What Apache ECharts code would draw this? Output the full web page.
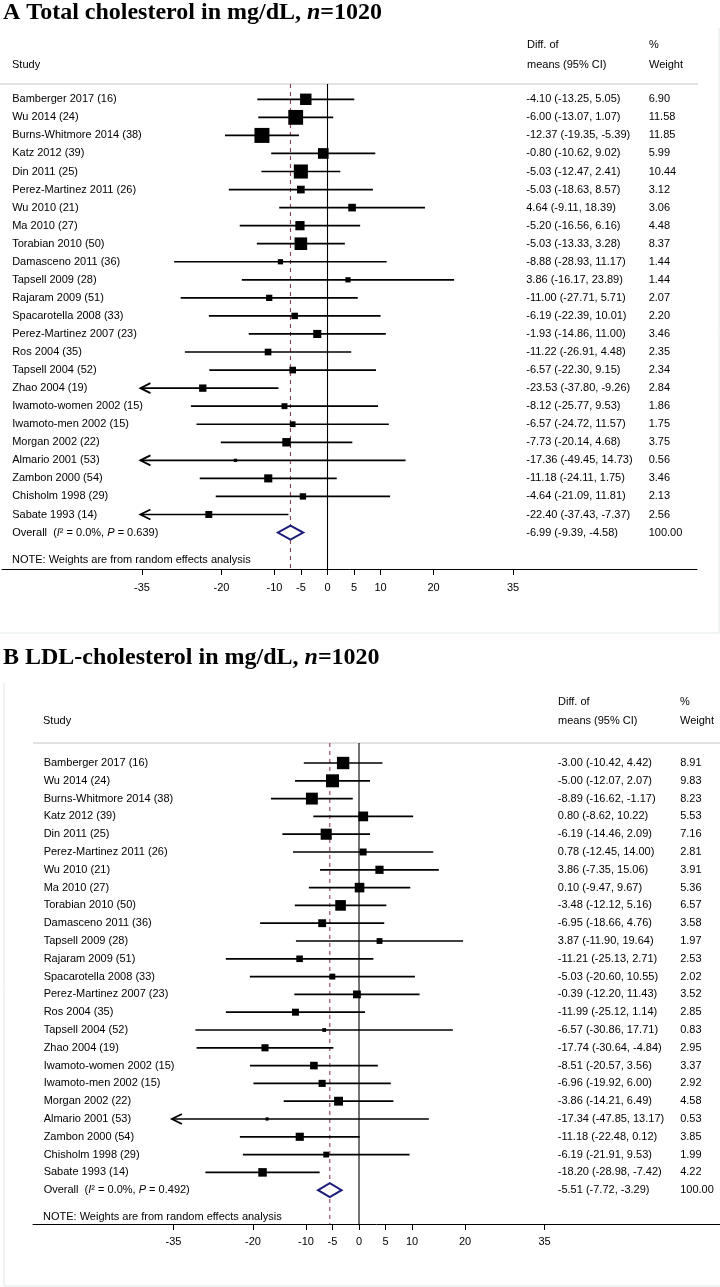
<!DOCTYPE html>
<html><head><meta charset="utf-8">
<script src="https://cdn.jsdelivr.net/npm/echarts@6/dist/echarts.min.js"></script>
<style>html,body{margin:0;padding:0;background:#fff}#c{width:720px;height:1287px}</style>
</head><body><div id="c"></div>
<script>
// ---------- data ----------
const studies = ["Bamberger 2017 (16)","Wu 2014 (24)","Burns-Whitmore 2014 (38)","Katz 2012 (39)","Din 2011 (25)","Perez-Martinez 2011 (26)","Wu 2010 (21)","Ma 2010 (27)","Torabian 2010 (50)","Damasceno 2011 (36)","Tapsell 2009 (28)","Rajaram 2009 (51)","Spacarotella 2008 (33)","Perez-Martinez 2007 (23)","Ros 2004 (35)","Tapsell 2004 (52)","Zhao 2004 (19)","Iwamoto-women 2002 (15)","Iwamoto-men 2002 (15)","Morgan 2002 (22)","Almario 2001 (53)","Zambon 2000 (54)","Chisholm 1998 (29)","Sabate 1993 (14)"];

const tcEst = [-4.10,-6.00,-12.37,-0.80,-5.03,-5.03,4.64,-5.20,-5.03,-8.88,3.86,-11.00,-6.19,-1.93,-11.22,-6.57,-23.53,-8.12,-6.57,-7.73,-17.36,-11.18,-4.64,-22.40];
const tcLo  = [-13.25,-13.07,-19.35,-10.62,-12.47,-18.63,-9.11,-16.56,-13.33,-28.93,-16.17,-27.71,-22.39,-14.86,-26.91,-22.30,-37.80,-25.77,-24.72,-20.14,-49.45,-24.11,-21.09,-37.43];
const tcHi  = [5.05,1.07,-5.39,9.02,2.41,8.57,18.39,6.16,3.28,11.17,23.89,5.71,10.01,11.00,4.48,9.15,-9.26,9.53,11.57,4.68,14.73,1.75,11.81,-7.37];
const tcWt  = [6.90,11.58,11.85,5.99,10.44,3.12,3.06,4.48,8.37,1.44,1.44,2.07,2.20,3.46,2.35,2.34,2.84,1.86,1.75,3.75,0.56,3.46,2.13,2.56];
const tcOverall = [-6.99,-9.39,-4.58,100.00];
const tcHet = ["0.0%","0.639"];

const ldlEst = [-3.00,-5.00,-8.89,0.80,-6.19,0.78,3.86,0.10,-3.48,-6.95,3.87,-11.21,-5.03,-0.39,-11.99,-6.57,-17.74,-8.51,-6.96,-3.86,-17.34,-11.18,-6.19,-18.20];
const ldlLo  = [-10.42,-12.07,-16.62,-8.62,-14.46,-12.45,-7.35,-9.47,-12.12,-18.66,-11.90,-25.13,-20.60,-12.20,-25.12,-30.86,-30.64,-20.57,-19.92,-14.21,-47.85,-22.48,-21.91,-28.98];
const ldlHi  = [4.42,2.07,-1.17,10.22,2.09,14.00,15.06,9.67,5.16,4.76,19.64,2.71,10.55,11.43,1.14,17.71,-4.84,3.56,6.00,6.49,13.17,0.12,9.53,-7.42];
const ldlWt  = [8.91,9.83,8.23,5.53,7.16,2.81,3.91,5.36,6.57,3.58,1.97,2.53,2.02,3.52,2.85,0.83,2.95,3.37,2.92,4.58,0.53,3.85,1.99,4.22];
const ldlOverall = [-5.51,-7.72,-3.29,100.00];
const ldlHet = ["0.0%","0.492"];

const tickValues = [-35,-20,-10,-5,0,5,10,20,35];

// ---------- layout ----------
const FONT = 'Liberation Sans';
const NAME_X = -59.5, CI_X = 37.5, WT_X = 60.6, CLIP = -35.3;
const fmt = v => v.toFixed(2);

function panelSeries(g, est, lo, hi, wt, ov, het, boxK){
  const n = studies.length;
  const wmax = Math.max.apply(null, wt);
  const rows = studies.map((s,i)=>[i, est[i], lo[i], hi[i], wt[i]]);
  rows.push([n, ov[0], ov[1], ov[2], ov[3]]);
  return [
    {
      type:'custom', xAxisIndex:g, yAxisIndex:g, z:1, silent:true,
      data:[[0,0],[ov[0],1]],
      renderItem(params, api){
        const cs = params.coordSys;
        const x = api.coord([api.value(0), 0])[0];
        const dashed = api.value(1) === 1;
        return {type:'line', shape:{x1:x, y1:cs.y, x2:x, y2:cs.y+cs.height},
          style: dashed ? {stroke:'#94404f', lineWidth:1.1, lineDash:[4,4]} : {stroke:'#000', lineWidth:1.1}};
      }
    },
    {
      type:'custom', xAxisIndex:g, yAxisIndex:g, z:3, silent:true,
      data: rows,
      renderItem(params, api){
        const i = params.dataIndex;
        const yv = api.value(0), e = api.value(1), l = api.value(2), h = api.value(3), w = api.value(4);
        const y = api.coord([0, yv])[1];
        const X = v => api.coord([v, yv])[0];
        const txt = (v, t, extra) => ({type:'text', x:X(v), y:y,
          style:Object.assign({text:t, fill:'#000', fontSize:11, fontFamily:FONT, align:'left', verticalAlign:'middle'}, extra||{})});
        const ch = [];
        if (i < n){
          const clipped = l < CLIP;
          const xl = X(clipped ? CLIP : l), xh = X(h);
          ch.push({type:'line', shape:{x1:xl, y1:y, x2:xh, y2:y}, style:{stroke:'#000', lineWidth:1.7}});
          if (clipped) ch.push({type:'polyline', shape:{points:[[xl+10,y-5],[xl,y],[xl+10,y+5]]}, style:{stroke:'#000', lineWidth:1.8, fill:'none'}});
          const s = Math.max(3.2, boxK*Math.sqrt(w/wmax));
          ch.push({type:'rect', shape:{x:X(e)-s/2, y:y-s/2, width:s, height:s}, style:{fill:'#000'}});
          ch.push(txt(NAME_X, studies[i]));
          ch.push(txt(CI_X, fmt(e)+' ('+fmt(l)+', '+fmt(h)+')'));
          ch.push(txt(WT_X, fmt(w)));
        } else {
          ch.push({type:'polygon', shape:{points:[[X(l),y],[X(e),y-7],[X(h),y],[X(e),y+7]]},
            style:{fill:'#fff', stroke:'#1d1d7a', lineWidth:2}});
          ch.push({type:'text', x:X(NAME_X), y:y, style:{
            text:'{a|Overall  (}{b|I}{a|² = '+het[0]+', }{b|P}{a| = '+het[1]+')}',
            rich:{a:{fontSize:11, fontFamily:FONT, fill:'#000'}, b:{fontSize:11, fontFamily:FONT, fontStyle:'italic', fill:'#000'}},
            align:'left', verticalAlign:'middle'}});
          ch.push(txt(CI_X, fmt(e)+' ('+fmt(l)+', '+fmt(h)+')'));
          ch.push(txt(WT_X, fmt(w)));
        }
        return {type:'group', children:ch};
      }
    }
  ];
}

function xAxisCfg(g, min, max, margin){
  return {type:'value', gridIndex:g, min:min, max:max,
    axisLine:{show:true, onZero:false, lineStyle:{color:'#000', width:1}},
    axisTick:{show:true, length:6, customValues:tickValues, lineStyle:{color:'#000', width:1}},
    axisLabel:{customValues:tickValues, color:'#000', fontSize:11, fontFamily:FONT, margin:margin},
    splitLine:{show:false}};
}

function hdr(x, y, t){ return {type:'text', x:x, y:y, style:{text:t, fill:'#000', fontSize:11, fontFamily:FONT, align:'left', verticalAlign:'middle'}}; }
function title(y, letter, body){
  return {type:'text', x:3, y:y, style:{
    text:'{t|'+letter+' '+body+' }{i|n}{t|=1020}',
    rich:{t:{fontSize:24, fontWeight:'bold', fontFamily:'Liberation Serif', fill:'#000'},
          i:{fontSize:24, fontWeight:'bold', fontStyle:'italic', fontFamily:'Liberation Serif', fill:'#000'}},
    verticalAlign:'middle', align:'left'}};
}
function ln(x1,y1,x2,y2,c){ return {type:'line', shape:{x1,y1,x2,y2}, style:{stroke:c, lineWidth:1}, silent:true}; }

const chart = echarts.init(document.getElementById('c'), null, {renderer:'canvas'});
chart.setOption({
  animation:false,
  backgroundColor:'#fff',
  grid:[
    {left:2, right:23, top:84, bottom:718},
    {left:33, right:0, top:743, bottom:63}
  ],
  xAxis:[ xAxisCfg(0, -61.42, 69.72, 13), xAxisCfg(1, -61.51, 68.11, 12) ],
  yAxis:[
    {type:'value', gridIndex:0, inverse:true, min:-0.848, max:26.02, show:false},
    {type:'value', gridIndex:1, inverse:true, min:-1.124, max:25.9, show:false}
  ],
  graphic:[
    ln(719,28,719,633,'#e2e8e8'), ln(0,633,719,633,'#e2e8e8'),
    ln(4,683,4,1286,'#e2e8e8'), ln(4,1286,720,1286,'#e2e8e8'),
    ln(0,84,698,84,'#c4c4c4'), ln(33,743,720,743,'#c4c4c4'),
    title(13,'A','Total cholesterol in mg/dL,'),
    title(658,'B','LDL-cholesterol in mg/dL,'),
    hdr(12,65,'Study'), hdr(527,45,'Diff. of'), hdr(527,65,'means (95% CI)'), hdr(649,45,'%'), hdr(649,65,'Weight'),
    hdr(43,721,'Study'), hdr(558,702,'Diff. of'), hdr(558,721,'means (95% CI)'), hdr(680,702,'%'), hdr(680,721,'Weight'),
    hdr(12,560,'NOTE: Weights are from random effects analysis'),
    hdr(43,1217,'NOTE: Weights are from random effects analysis')
  ],
  series: [].concat(
    panelSeries(0, tcEst, tcLo, tcHi, tcWt, tcOverall, tcHet, 15),
    panelSeries(1, ldlEst, ldlLo, ldlHi, ldlWt, ldlOverall, ldlHet, 13)
  )
});
</script>
</body></html>
